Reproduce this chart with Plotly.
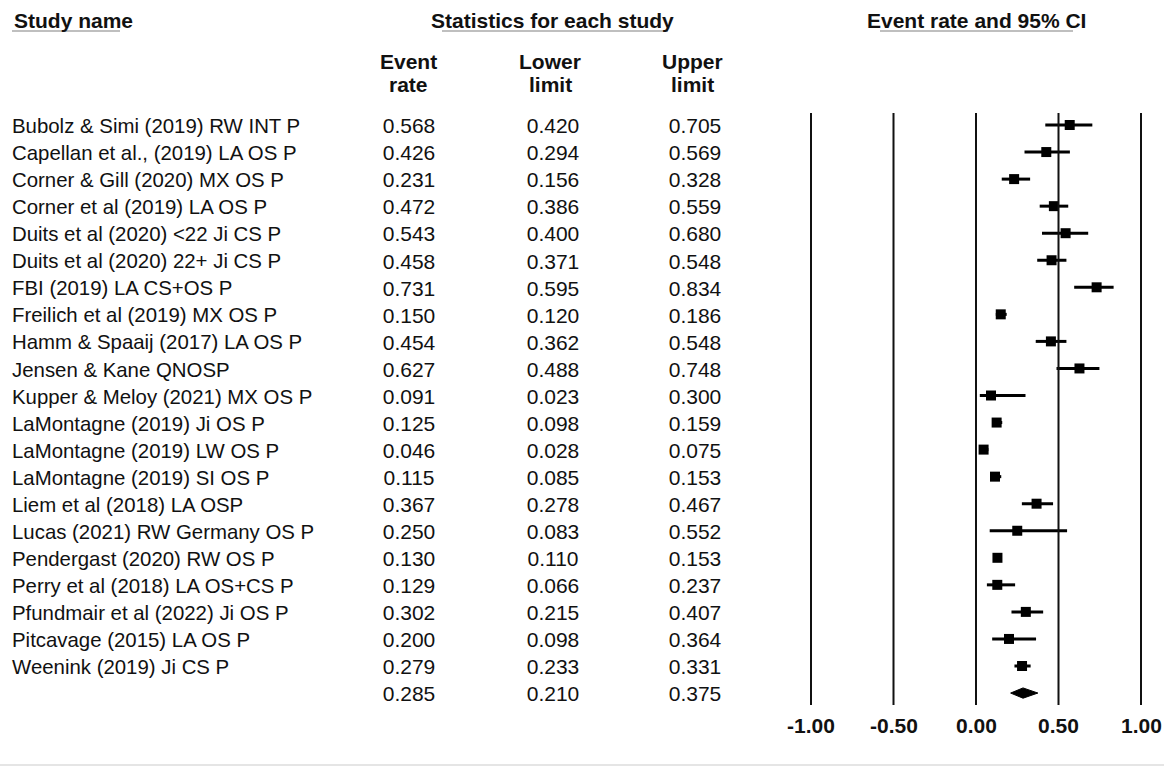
import plotly.graph_objects as go

studies = [
    "Bubolz & Simi (2019) RW INT P",
    "Capellan et al., (2019) LA OS P",
    "Corner & Gill (2020) MX OS P",
    "Corner et al (2019) LA OS P",
    "Duits et al (2020) <22 Ji CS P",
    "Duits et al (2020) 22+ Ji CS P",
    "FBI (2019) LA CS+OS P",
    "Freilich et al (2019) MX OS P",
    "Hamm & Spaaij (2017) LA OS P",
    "Jensen & Kane QNOSP",
    "Kupper & Meloy (2021) MX OS P",
    "LaMontagne (2019) Ji OS P",
    "LaMontagne (2019) LW OS P",
    "LaMontagne (2019) SI OS P",
    "Liem et al (2018) LA OSP",
    "Lucas (2021) RW Germany OS P",
    "Pendergast (2020) RW OS P",
    "Perry et al (2018) LA OS+CS P",
    "Pfundmair et al (2022) Ji OS P",
    "Pitcavage (2015) LA OS P",
    "Weenink (2019) Ji CS P",
]
event_rate = [0.568, 0.426, 0.231, 0.472, 0.543, 0.458, 0.731, 0.150, 0.454, 0.627,
              0.091, 0.125, 0.046, 0.115, 0.367, 0.250, 0.130, 0.129, 0.302, 0.200, 0.279]
lower_limit = [0.420, 0.294, 0.156, 0.386, 0.400, 0.371, 0.595, 0.120, 0.362, 0.488,
               0.023, 0.098, 0.028, 0.085, 0.278, 0.083, 0.110, 0.066, 0.215, 0.098, 0.233]
upper_limit = [0.705, 0.569, 0.328, 0.559, 0.680, 0.548, 0.834, 0.186, 0.548, 0.748,
               0.300, 0.159, 0.075, 0.153, 0.467, 0.552, 0.153, 0.237, 0.407, 0.364, 0.331]
summary = {"rate": 0.285, "lower": 0.210, "upper": 0.375}
tick_values = [-1.0, -0.5, 0.0, 0.5, 1.0]
tick_labels = ["-1.00", "-0.50", "0.00", "0.50", "1.00"]

W, H = 1164, 766
# pixel <-> data mapping (layout)
X0_PX, SCALE = 811 + 165, 165.0     # pixel of value 0, px per unit
ROW0_PX, ROW_STEP = 125.0, 27.05
TEXT_DY = 3.0 / ROW_STEP            # text sits slightly below the marker row


def px2x(p):
    return (p - X0_PX) / SCALE


def px2row(p):
    return (p - ROW0_PX) / ROW_STEP


FONT = "Liberation Sans, Arial, Helvetica, sans-serif"
FS = 21
n = len(studies)
rows = list(range(n))
sum_row = n

fig = go.Figure()

# CI lines
lx, ly = [], []
for i in rows:
    lx += [lower_limit[i], upper_limit[i], None]
    ly += [i, i, None]
fig.add_trace(go.Scatter(x=lx, y=ly, mode="lines", line=dict(color="black", width=3),
                         hoverinfo="skip", showlegend=False))
# point estimates
fig.add_trace(go.Scatter(x=event_rate, y=rows, mode="markers",
                         marker=dict(symbol="square", size=10, color="black"),
                         showlegend=False))
# summary diamond
hh = 0.19
fig.add_trace(go.Scatter(
    x=[summary["lower"], summary["rate"], summary["upper"], summary["rate"], summary["lower"]],
    y=[sum_row, sum_row - hh, sum_row, sum_row + hh, sum_row],
    mode="lines", fill="toself", fillcolor="black", line=dict(color="black", width=1),
    showlegend=False, hoverinfo="skip"))

# table text
all_rates = event_rate + [summary["rate"]]
all_low = lower_limit + [summary["lower"]]
all_up = upper_limit + [summary["upper"]]
all_rows = rows + [sum_row]
nfont = dict(family=FONT, size=20.4, color="#111")
tfont = dict(family=FONT, size=FS, color="#111")
fig.add_trace(go.Scatter(x=[px2x(12)] * n, y=[r + TEXT_DY for r in rows], text=studies,
                         mode="text", textposition="middle right", textfont=nfont,
                         showlegend=False, hoverinfo="skip"))
for col_px, vals in [(409, all_rates), (553, all_low), (695, all_up)]:
    fig.add_trace(go.Scatter(x=[px2x(col_px)] * len(vals), y=[r + TEXT_DY for r in all_rows],
                             text=[f"{v:.3f}" for v in vals], mode="text",
                             textposition="middle center", textfont=tfont,
                             showlegend=False, hoverinfo="skip"))

# vertical reference lines
for tv in tick_values:
    fig.add_shape(type="line", x0=tv, x1=tv, y0=px2row(113), y1=px2row(705),
                  xref="x", yref="y", line=dict(color="#111", width=2))

annotations = []
# tick labels
for tv, tl in zip(tick_values, tick_labels):
    annotations.append(dict(x=tv, y=px2row(725), xref="x", yref="y", text=f"<b>{tl}</b>",
                            showarrow=False, font=dict(family=FONT, size=FS, color="#111"),
                            xanchor="center", yanchor="middle"))

hfont = dict(family=FONT, size=FS, color="#111")


def pann(px, py, text, anchor="center"):
    annotations.append(dict(x=px / W, y=1 - py / H, xref="paper", yref="paper",
                            text=f"<b>{text}</b>", showarrow=False, font=hfont,
                            xanchor=anchor, yanchor="middle"))


pann(12, 21, "Study name", "left")
pann(552, 21, "Statistics for each study")
pann(976, 21, "Event rate and 95% CI")
pann(408, 62, "Event")
pann(408, 85, "rate")
pann(550, 62, "Lower")
pann(550, 85, "limit")
pann(692, 62, "Upper")
pann(692, 85, "limit")

# header underlines
for x0, x1 in [(12, 120), (442, 668), (880, 1073)]:
    fig.add_shape(type="line", x0=x0 / W, x1=x1 / W, y0=1 - 31 / H, y1=1 - 31 / H,
                  xref="paper", yref="paper", line=dict(color="#aaaaaa", width=1.5))
# bottom faint line
fig.add_shape(type="line", x0=0, x1=1, y0=1 - 765 / H, y1=1 - 765 / H,
              xref="paper", yref="paper", line=dict(color="#dddddd", width=1.5))

fig.update_layout(
    width=W, height=H, margin=dict(l=0, r=0, t=0, b=0),
    paper_bgcolor="white", plot_bgcolor="white",
    annotations=annotations,
    xaxis=dict(range=[px2x(0), px2x(W)], visible=False, fixedrange=True),
    yaxis=dict(range=[px2row(H), px2row(0)], visible=False, fixedrange=True),
    showlegend=False,
)
fig.write_html("out.html",
               config={"displayModeBar": False},
               post_script="document.body.style.margin='0';document.body.style.overflow='hidden';")
